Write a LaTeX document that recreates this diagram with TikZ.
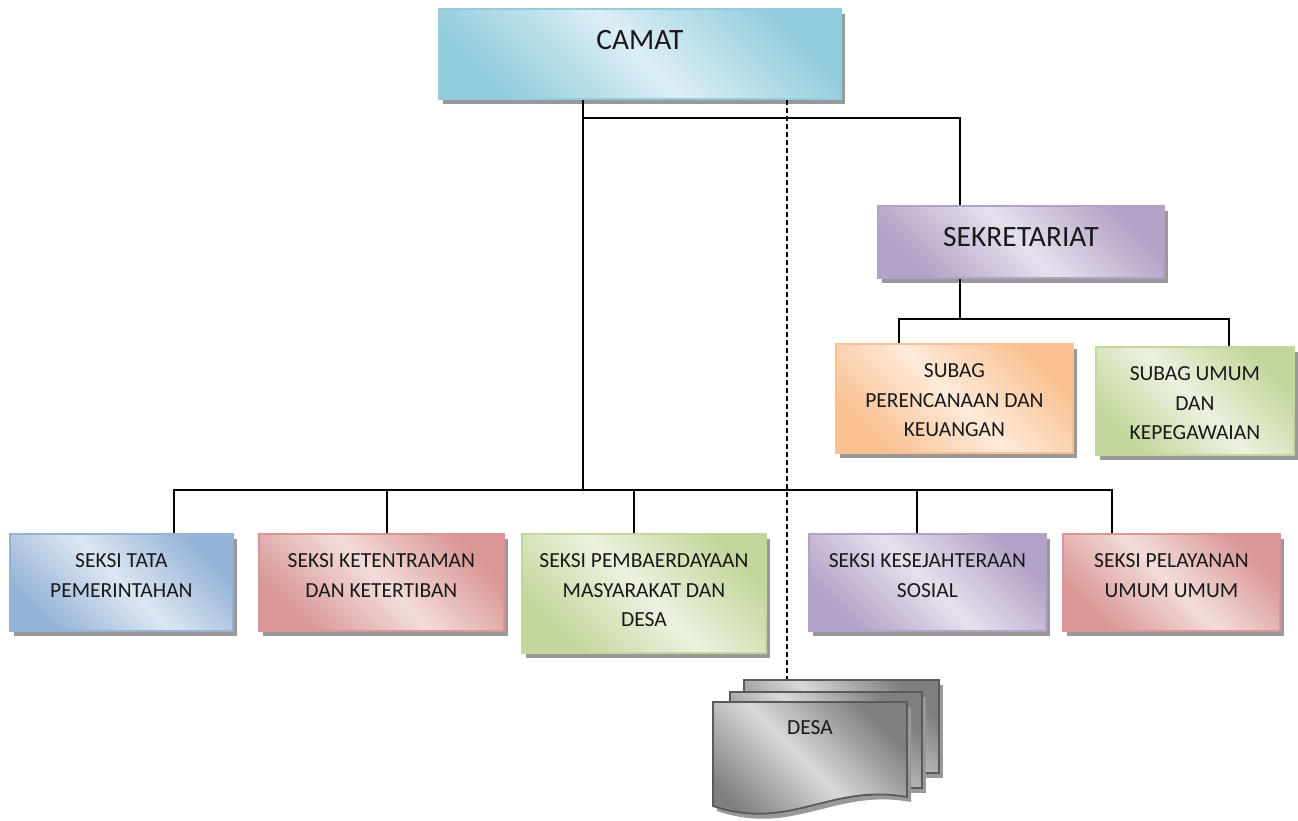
\documentclass[tikz,border=0pt]{standalone}
\usepackage{fontspec}
\setmainfont{Carlito}
\usetikzlibrary{shadows}

\definecolor{aquaD}{HTML}{93CDDD}
\definecolor{aquaL}{HTML}{DBEEF4}
\definecolor{lilacD}{HTML}{B3A2C7}
\definecolor{lilacL}{HTML}{E6E0EC}
\definecolor{peachD}{HTML}{FAC090}
\definecolor{peachL}{HTML}{FDEADA}
\definecolor{oliveD}{HTML}{C3D69B}
\definecolor{oliveL}{HTML}{EBF1DE}
\definecolor{steelD}{HTML}{95B3D7}
\definecolor{steelL}{HTML}{DCE6F2}
\definecolor{roseD}{HTML}{D99694}
\definecolor{roseL}{HTML}{F2DCDB}
\definecolor{pageD}{HTML}{7F7F7F}
\definecolor{pageL}{HTML}{D9D9D9}
\definecolor{pageB}{HTML}{5A5A5A}

\tikzset{
unit/.style 2 args={draw=#1, line width=1.8pt, top color=#1, bottom color=#1,
  middle color=#2, shading angle=-45, inner sep=0pt, align=center, text=black!90,
  drop shadow={shadow xshift=4pt, shadow yshift=-5pt, fill=black!40, opacity=1}},
small/.style={font=\fontsize{21.5}{29.5}\selectfont, text height=34pt},
two/.style={small, text height=63.5pt},
three/.style={small, text height=93pt},
big/.style={font=\fontsize{29.5}{34}\selectfont, text height=41pt},
link/.style={line width=2pt},
}

\begin{document}
\begin{tikzpicture}[x=1pt,y=-1pt]
\useasboundingbox (0,0) rectangle (1298,821);

% camat and sekretariat
\node[unit={aquaD}{aquaL}, big, minimum width=402pt, text depth=49pt, anchor=north west] (camat) at (438,8) {CAMAT};
\node[unit={lilacD}{lilacL}, big, minimum width=286pt, text depth=31pt, anchor=north west] (sekretariat) at (877,205) {SEKRETARIAT};
\node[unit={peachD}{peachL}, three, minimum width=237pt, text depth=16pt, anchor=north west] (perencanaan) at (835,343) {SUBAG\\PERENCANAAN DAN\\KEUANGAN};
\node[unit={oliveD}{oliveL}, three, minimum width=198pt, text depth=15pt, anchor=north west] (umum) at (1095,346) {SUBAG UMUM\\DAN\\KEPEGAWAIAN};

% seksi
\node[unit={steelD}{steelL}, two, minimum width=223pt, text depth=33.5pt, anchor=north west] (tata) at (9,533) {SEKSI TATA\\PEMERINTAHAN};
\node[unit={roseD}{roseL}, two, minimum width=245pt, text depth=33.5pt, anchor=north west] (ketentraman) at (258,533) {SEKSI KETENTRAMAN\\DAN KETERTIBAN};
\node[unit={oliveD}{oliveL}, three, minimum width=244pt, text depth=26pt, anchor=north west] (pembaerdayaan) at (521,533) {SEKSI PEMBAERDAYAAN\\MASYARAKAT DAN\\DESA};
\node[unit={lilacD}{lilacL}, two, minimum width=237pt, text depth=33.5pt, anchor=north west] (kesejahteraan) at (808,533) {SEKSI KESEJAHTERAAN\\SOSIAL};
\node[unit={roseD}{roseL}, two, minimum width=217pt, text depth=33.5pt, anchor=north west] (pelayanan) at (1062,533) {SEKSI PELAYANAN\\UMUM UMUM};

% desa (stacked pages)
\node[unit={pageD}{pageL}, draw=pageB, minimum width=195pt, minimum height=93pt, anchor=north west] (desa3) at (743,679) {};
\node[unit={pageD}{pageL}, draw=pageB, minimum width=192pt, minimum height=96pt, anchor=north west] (desa2) at (729,691) {};
\path[unit={pageD}{pageL}, draw=pageB] (713,702) -- (907,702) -- (907,797)
  .. controls (830,783) and (790,832) .. (713,806) -- cycle;
\node[font=\fontsize{21.5}{29.5}\selectfont, text=black!90, anchor=base] (desa) at (810,734) {DESA};

% lines
\coordinate (tj) at (583,118);
\coordinate (sj) at (960,319);
\coordinate (bus) at (583,490);
\coordinate (dj) at (787,0);
\draw[link] (camat.south -| tj) -- (bus);
\draw[link] (tj) -| (sekretariat.north -| sj);
\draw[link] (sekretariat.south -| sj) -- (sj);
\draw[link] (perencanaan.north -| 899,0) |- (sj) -| (umum.north -| 1229,0);
\draw[link] (tata.north -| 174,0) |- (bus) -| (pelayanan.north -| 1112,0);
\foreach \n/\x in {ketentraman/387, pembaerdayaan/634, kesejahteraan/917}
  \draw[link] (bus -| \x,0) -- (\n.north -| \x,0);
\draw[link, line width=1.6pt, dash pattern=on 5pt off 3pt] (camat.south -| dj) -- (desa3.north -| dj);
\end{tikzpicture}
\end{document}
